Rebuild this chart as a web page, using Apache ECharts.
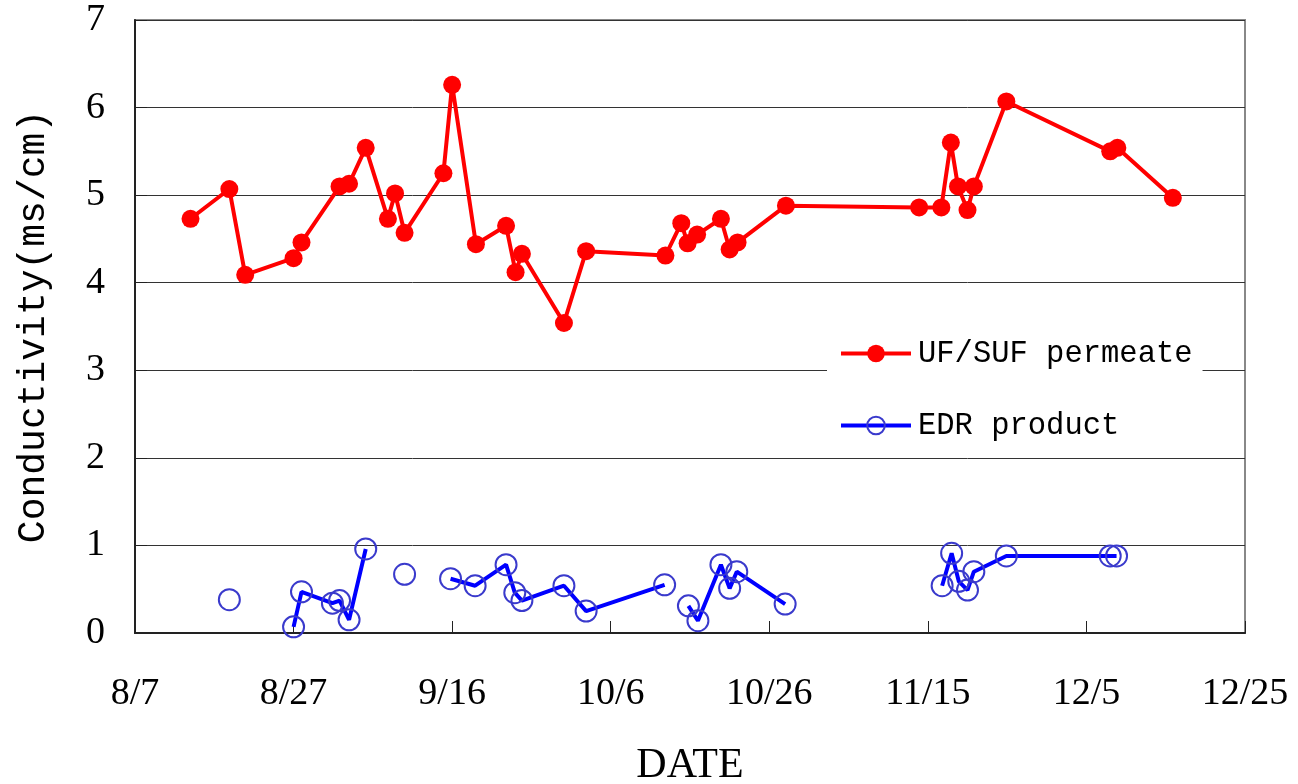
<!DOCTYPE html>
<html>
<head>
<meta charset="utf-8">
<script src="https://cdn.jsdelivr.net/npm/echarts@6/dist/echarts.min.js"></script>
<style>
  html, body { margin: 0; padding: 0; background: #fff; }
  #chart { width: 1298px; height: 784px; }
</style>
</head>
<body>
<div id="chart"></div>
<script>
// x = days after 8/7
const xTicks = ["8/7", "8/27", "9/16", "10/6", "10/26", "11/15", "12/5", "12/25"];

const ufDays = [7.0, 11.9, 13.9, 20.0, 21.0, 25.8, 27.0, 29.1, 31.9, 32.8, 34.0, 38.9, 40.0,
  43.0, 46.8, 48.0, 48.8, 54.1, 56.9, 66.9, 68.9, 69.7, 70.9, 73.9, 75.0, 76.0, 82.1,
  98.9, 101.7, 102.9, 103.8, 105.0, 105.8, 109.9, 123.0, 123.9, 130.9];
const ufVals = [4.73, 5.07, 4.09, 4.28, 4.46, 5.10, 5.13, 5.54, 4.73, 5.02, 4.57, 5.25, 6.26,
  4.44, 4.65, 4.12, 4.33, 3.54, 4.36, 4.31, 4.68, 4.45, 4.55, 4.73, 4.38, 4.46, 4.88,
  4.86, 4.86, 5.60, 5.10, 4.83, 5.10, 6.07, 5.50, 5.54, 4.97];

// null = break in the line
const edrDays = [11.9, null, 20.0, 21.0, 24.9, 25.8, 27.0, 29.1, null, 34.0, null,
  39.8, 42.9, 46.8, 47.9, 48.8, 54.1, 56.9, 66.8, null,
  69.8, 71.0, 73.9, 75.0, 75.9, 82.0, null,
  101.8, 103.0, 103.9, 105.0, 105.8, 109.9, 123.0, 123.8];
const edrVals = [0.38, null, 0.07, 0.47, 0.34, 0.37, 0.15, 0.96, null, 0.67, null,
  0.62, 0.54, 0.78, 0.46, 0.37, 0.54, 0.25, 0.55, null,
  0.31, 0.14, 0.78, 0.51, 0.70, 0.33, null,
  0.54, 0.91, 0.59, 0.49, 0.70, 0.88, 0.88, 0.88];

const ufData = ufDays.map((d, i) => [d, ufVals[i]]);
const edrData = edrDays.map((d, i) => (d === null ? ["-", "-"] : [d, edrVals[i]]));

const chart = echarts.init(document.getElementById("chart"));
chart.setOption({
  animation: false,
  backgroundColor: "#fff",
  grid: {
    left: 135, right: 53, top: 20, bottom: 151,
    outerBoundsMode: "none",
    show: true, borderColor: "#888", borderWidth: 2,
  },
  legend: {
    left: 827,
    top: 326,
    orient: "vertical",
    backgroundColor: "#fff",
    padding: [12, 10, 12, 12],
    itemWidth: 70,
    itemHeight: 22,
    itemGap: 41,
    lineStyle: { width: 4 },
    textStyle: { fontFamily: "Liberation Mono", fontSize: 30.5, color: "#000", padding: [0, 0, 0, 2] },
    data: ["UF/SUF permeate", "EDR product"],
  },
  xAxis: {
    type: "value",
    min: 0,
    max: 140,
    interval: 20,
    name: "DATE",
    nameLocation: "middle",
    nameGap: 112,
    nameTextStyle: { fontFamily: "Liberation Serif", fontSize: 42, color: "#000" },
    axisLine: { show: true, onZero: false, lineStyle: { color: "#222", width: 2 } },
    axisTick: { show: true, inside: true, length: 12, lineStyle: { color: "#222", width: 1 } },
    axisLabel: {
      margin: 42,
      fontFamily: "Liberation Serif",
      fontSize: 38,
      color: "#000",
      formatter: (v) => xTicks[Math.round(v / 20)],
    },
    splitLine: { show: false },
  },
  yAxis: {
    type: "value",
    min: 0,
    max: 7,
    interval: 1,
    name: "Conductivity(ms/cm)",
    nameLocation: "middle",
    nameGap: 82,
    nameTextStyle: { fontFamily: "Liberation Mono", fontSize: 38, color: "#000" },
    axisLine: { show: true, lineStyle: { color: "#222", width: 2 } },
    axisTick: { show: true, inside: true, length: 12, lineStyle: { color: "#222", width: 1 } },
    axisLabel: { margin: 30, fontFamily: "Liberation Serif", fontSize: 38, color: "#000" },
    splitLine: { show: true, lineStyle: { color: "#333", width: 1 } },
  },
  series: [
    {
      name: "UF/SUF permeate",
      type: "line",
      data: ufData,
      symbol: "circle",
      symbolSize: 18,
      itemStyle: { color: "#ff0000" },
      lineStyle: { color: "#ff0000", width: 4 },
    },
    {
      name: "EDR product",
      type: "line",
      data: edrData,
      connectNulls: false,
      symbol: "circle",
      symbolSize: 21,
      showAllSymbol: true,
      itemStyle: { color: "rgba(0,0,0,0)", borderColor: "#3a3acc", borderWidth: 2 },
      lineStyle: { color: "#0000ff", width: 4 },
    },
  ],
});
</script>
</body>
</html>
